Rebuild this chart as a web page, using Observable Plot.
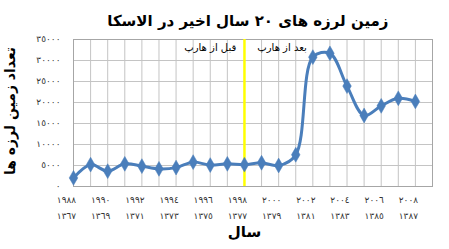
<!DOCTYPE html>
<html>
<head>
<meta charset="utf-8">
<script src="https://cdn.jsdelivr.net/npm/d3@7"></script>
<script src="https://cdn.jsdelivr.net/npm/@observablehq/plot@0.6"></script>
<style>
  html, body { margin: 0; padding: 0; background: #fff; }
  #chart svg { display: block; font-family: "DejaVu Sans", sans-serif; }
</style>
</head>
<body>
<div id="chart"></div>
<script>
const years = [1988,1989,1990,1991,1992,1993,1994,1995,1996,1997,1998,1999,2000,2001,2002,2003,2004,2005,2006,2007,2008];
const quakes = [2050,5200,3650,5400,4850,4200,4500,5800,5100,5400,5200,5650,5000,7550,30800,31700,23900,16900,19200,21000,20250];
const gridYears = [1988,1989,1990,1991,1992,1993,1994,1995,1996,1997,1998,1999,2000,2001,2002,2003,2004,2005,2006,2007,2008,2009];
const gregTicks = [1988,1990,1992,1994,1996,1998,2000,2002,2004,2006,2008];
const solarTicks = ["1367","1369","1371","1373","1375","1377","1379","1381","1383","1385","1387"];
const yTicks = [0,5000,10000,15000,20000,25000,30000,35000];
const haarpYear = 1998;
const notes = [
  {x: 1996, y: 33000, text: "قبل از هارپ"},
  {x: 2000.2, y: 33000, text: "بعد از هارپ"}
];
const title = "زمین لرزه های ۲۰ سال اخیر در الاسکا";
const yTitle = "تعداد زمین لرزه ها";
const xTitle = "سال";

const ar = s => String(s).replace(/\d/g, d => "٠١٢٣٤٥٦٧٨٩"[d]);
const data = years.map((y, i) => ({year: y, value: quakes[i]}));
const solarData = gregTicks.map((g, i) => ({x: g, text: solarTicks[i]}));
const blue = "#4a7ebb";

const chart = Plot.plot({
  width: 449,
  height: 249,
  marginTop: 39,
  marginBottom: 63,
  marginLeft: 73,
  marginRight: 17,
  style: {fontFamily: "DejaVu Sans, sans-serif", fontSize: "10px", color: "#000"},
  x: {domain: [1988, 2009], axis: null},
  y: {domain: [0, 35000], axis: null},
  marks: [
    Plot.ruleX(gridYears, {x: d => d, stroke: "#c4c4c4", strokeWidth: 1}),
    Plot.ruleY(yTicks, {y: d => d, stroke: "#c4c4c4", strokeWidth: 1}),
    Plot.frame({stroke: "#a6a6a6"}),
    Plot.ruleX([haarpYear], {x: d => d, stroke: "#ffff00", strokeWidth: 2.5}),
    Plot.line(data, {x: "year", y: "value", stroke: blue, strokeWidth: 3, curve: "catmull-rom"}),
    Plot.dot(data, {x: "year", y: "value", symbol: "diamond", r: 4.5, fill: blue, stroke: blue, strokeWidth: 0.5}),
    Plot.text(notes, {x: "x", y: "y", text: "text", fontSize: 10, fill: "#000", textAnchor: "middle"}),
    Plot.text(yTicks, {y: d => d, text: d => ar(d), frameAnchor: "left", dx: -13, textAnchor: "end", fontSize: 9, fill: "#333"}),
    Plot.text(gregTicks, {x: d => d, text: d => ar(d), frameAnchor: "bottom", dy: 16, dx: -7, fontSize: 9, fill: "#333"}),
    Plot.text(solarData, {x: "x", text: d => ar(d.text), frameAnchor: "bottom", dy: 32, dx: -7, fontSize: 9, fill: "#333"}),
    Plot.text([xTitle], {text: d => d, frameAnchor: "bottom", dy: 50, x: () => 1998, fontSize: 15, fontWeight: "bold", fill: "#000", textAnchor: "middle"}),
    Plot.text([title], {text: d => d, frameAnchor: "top", dy: -24, x: () => 1998.2, fontSize: 15, fontWeight: "bold", fill: "#000", textAnchor: "middle"}),
    Plot.text([yTitle], {text: d => d, frameAnchor: "left", dx: -63, dy: -2, rotate: -90, fontSize: 14, fontWeight: "bold", fill: "#000", textAnchor: "middle"})
  ]
});
document.getElementById("chart").appendChild(chart);
</script>
</body>
</html>
